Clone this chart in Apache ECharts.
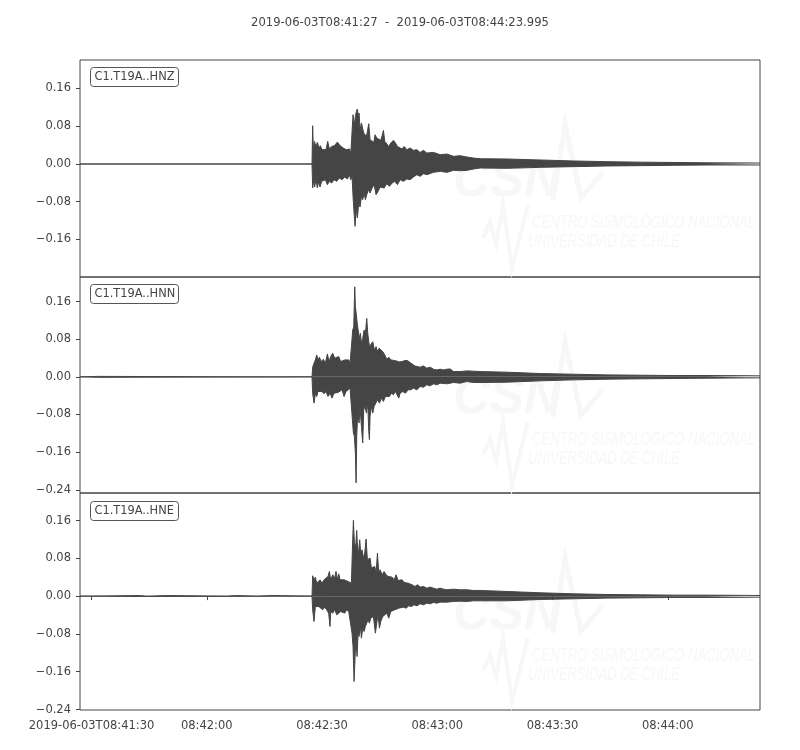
<!DOCTYPE html>
<html>
<head>
<meta charset="utf-8">
<script src="https://cdn.jsdelivr.net/npm/echarts@6/dist/echarts.min.js"></script>
<style>
html,body{margin:0;padding:0;background:#fff;}
#chart{width:800px;height:750px;}
</style>
</head>
<body>
<div id="chart"></div>
<script>
// ---------- data (seconds after 2019-06-03T08:41:27, amplitude) ----------
const channels = ['C1.T19A..HNZ', 'C1.T19A..HNN', 'C1.T19A..HNE'];
const xTickSeconds = [3, 33, 63, 93, 123, 153];
const yTickValues = [-0.24, -0.16, -0.08, 0, 0.08, 0.16];
const yMin = [-0.2395, -0.2468, -0.2410];
const yMax = [0.2204, 0.2122, 0.2183];

const hnzUpper = [[0,0],[60.39,0],[60.56,0.0811],[60.74,0.0303],[61.00,0.0479],[61.43,0.0373],[61.78,0.0458],[62.21,0.0338],[62.56,0.0388],[63.00,0.0303],[63.43,0.0338],[64.04,0.0303],[64.47,0.0479],[64.91,0.0317],[65.51,0.0373],[66.21,0.0388],[66.99,0.0465],[67.69,0.0388],[68.56,0.0338],[69.25,0.0303],[69.77,0.0268],[70.21,0.0317],[70.47,0.0197],[70.81,0.0232],[71.07,0.1044],[71.42,0.0832],[71.68,0.1009],[71.94,0.1115],[72.20,0.1164],[72.46,0.1009],[72.64,0.1079],[72.90,0.0726],[73.25,0.0868],[73.59,0.0903],[73.85,0.0656],[74.20,0.0691],[74.55,0.0585],[74.81,0.0691],[75.16,0.0854],[75.50,0.0515],[75.94,0.0529],[76.46,0.0458],[76.81,0.0621],[77.24,0.0550],[77.76,0.0585],[78.28,0.0501],[78.63,0.0599],[78.98,0.0712],[79.33,0.0479],[79.85,0.0444],[80.37,0.0373],[80.89,0.0444],[81.59,0.0501],[82.11,0.0444],[82.63,0.0373],[83.15,0.0409],[83.84,0.0317],[84.37,0.0373],[85.06,0.0303],[85.93,0.0338],[86.80,0.0289],[87.67,0.0303],[88.54,0.0246],[89.40,0.0289],[90.27,0.0232],[92.01,0.0246],[93.75,0.0197],[95.49,0.0211],[97.22,0.0162],[98.96,0.0176],[100.70,0.0148],[102.43,0.0126],[104.17,0.0112],[111.1,0.0106],[119.8,0.0085],[128.5,0.0064],[137.2,0.0049],[145.9,0.0039],[154.5,0.0032],[163.2,0.0025],[176.99,0.0021]];
const hnzLower = [[0,0],[60.39,0],[60.56,-0.0509],[60.82,-0.0333],[61.08,-0.0488],[61.43,-0.0318],[61.78,-0.0509],[62.13,-0.0368],[62.47,-0.0488],[62.91,-0.0368],[63.34,-0.0403],[63.86,-0.0333],[64.39,-0.0438],[64.91,-0.0368],[65.51,-0.0403],[66.12,-0.0333],[66.82,-0.0368],[67.51,-0.0297],[68.21,-0.0333],[68.90,-0.0276],[69.60,-0.0318],[70.12,-0.0227],[70.47,-0.0333],[70.81,-0.0262],[71.07,-0.0686],[71.34,-0.1039],[71.60,-0.1321],[71.86,-0.0968],[72.20,-0.1144],[72.55,-0.0827],[72.90,-0.0911],[73.25,-0.0686],[73.59,-0.0756],[73.94,-0.0615],[74.29,-0.0756],[74.64,-0.0650],[75.07,-0.0544],[75.50,-0.0615],[76.03,-0.0509],[76.55,-0.0438],[77.07,-0.0650],[77.59,-0.0580],[78.11,-0.0488],[78.63,-0.0460],[79.15,-0.0509],[79.85,-0.0417],[80.54,-0.0474],[81.24,-0.0403],[81.93,-0.0368],[82.63,-0.0438],[83.32,-0.0333],[84.19,-0.0368],[85.06,-0.0318],[85.93,-0.0333],[86.80,-0.0276],[87.67,-0.0227],[88.54,-0.0262],[89.40,-0.0205],[90.27,-0.0227],[92.01,-0.0177],[93.75,-0.0156],[95.49,-0.0177],[97.22,-0.0135],[98.96,-0.0142],[100.70,-0.0135],[102.43,-0.0107],[104.17,-0.0085],[111.1,-0.0092],[119.8,-0.0071],[128.5,-0.0056],[137.2,-0.0042],[145.9,-0.0035],[154.5,-0.0028],[163.2,-0.0021],[176.99,-0.0021]];

const hnnUpper = [[0,0],[0.4,0],[0.5,0.0010],[4.6,0.0010],[4.7,0],[45.8,0],[45.9,0.0010],[46.3,0.0010],[46.4,0],[60.39,0],[60.56,0.0205],[60.91,0.0289],[61.26,0.0360],[61.61,0.0466],[61.95,0.0360],[62.30,0.0417],[62.82,0.0325],[63.34,0.0374],[63.86,0.0289],[64.39,0.0487],[64.82,0.0325],[65.25,0.0431],[65.78,0.0501],[66.30,0.0395],[66.82,0.0417],[67.34,0.0431],[67.86,0.0325],[68.38,0.0304],[68.90,0.0360],[69.42,0.0325],[69.95,0.0360],[70.29,0.0289],[70.64,0.0254],[70.99,0.0995],[71.25,0.1066],[71.51,0.1913],[71.68,0.1490],[71.94,0.1313],[72.20,0.1101],[72.46,0.1066],[72.73,0.0819],[72.99,0.0925],[73.25,0.0713],[73.59,0.0819],[73.94,0.0995],[74.29,0.0925],[74.64,0.1243],[74.90,0.0925],[75.33,0.0642],[75.68,0.0607],[76.20,0.0748],[76.63,0.0572],[77.07,0.0642],[77.42,0.0537],[77.85,0.0607],[78.37,0.0572],[78.81,0.0537],[79.33,0.0466],[79.85,0.0374],[80.37,0.0417],[80.89,0.0360],[81.41,0.0388],[81.93,0.0346],[82.45,0.0374],[83.15,0.0318],[83.84,0.0325],[84.54,0.0346],[85.23,0.0346],[85.93,0.0304],[86.45,0.0289],[87.15,0.0233],[87.84,0.0219],[88.54,0.0205],[89.40,0.0233],[90.27,0.0184],[91.14,0.0205],[92.01,0.0162],[92.88,0.0148],[93.75,0.0162],[94.62,0.0148],[95.49,0.0162],[96.35,0.0169],[97.22,0.0113],[98.96,0.0113],[100.70,0.0127],[102.43,0.0120],[104.17,0.0113],[111.1,0.0099],[119.8,0.0071],[128.5,0.0056],[137.2,0.0042],[145.9,0.0035],[154.5,0.0028],[163.2,0.0028],[176.99,0.0021]];
const hnnLower = [[0,0],[0.4,0],[0.5,-0.0010],[4.6,-0.0010],[4.7,0],[60.39,0],[60.56,-0.0346],[60.91,-0.0558],[61.26,-0.0360],[61.61,-0.0417],[61.95,-0.0311],[62.47,-0.0346],[63.00,-0.0311],[63.52,-0.0360],[64.04,-0.0311],[64.56,-0.0417],[65.08,-0.0346],[65.60,-0.0452],[66.12,-0.0346],[66.64,-0.0381],[67.17,-0.0332],[67.69,-0.0346],[68.21,-0.0275],[68.73,-0.0417],[69.25,-0.0311],[69.77,-0.0346],[70.29,-0.0240],[70.64,-0.0275],[70.90,-0.0911],[71.16,-0.1193],[71.42,-0.1264],[71.68,-0.1617],[71.86,-0.2252],[72.03,-0.1264],[72.29,-0.0770],[72.64,-0.0981],[72.90,-0.0664],[73.25,-0.1052],[73.59,-0.1405],[73.85,-0.0699],[74.20,-0.0628],[74.55,-0.0770],[74.90,-0.0558],[75.16,-0.1158],[75.33,-0.1334],[75.50,-0.0840],[75.85,-0.0628],[76.20,-0.0770],[76.55,-0.0628],[76.89,-0.0593],[77.42,-0.0487],[77.94,-0.0558],[78.46,-0.0452],[78.98,-0.0522],[79.50,-0.0417],[80.02,-0.0381],[80.54,-0.0417],[81.06,-0.0346],[81.59,-0.0381],[82.11,-0.0311],[82.63,-0.0346],[82.98,-0.0452],[83.32,-0.0346],[84.02,-0.0311],[84.71,-0.0346],[85.41,-0.0275],[86.10,-0.0275],[86.80,-0.0240],[87.67,-0.0275],[88.54,-0.0205],[89.40,-0.0219],[90.27,-0.0169],[91.14,-0.0191],[92.01,-0.0148],[92.88,-0.0169],[93.75,-0.0134],[95.49,-0.0148],[97.22,-0.0120],[98.96,-0.0134],[100.70,-0.0099],[102.43,-0.0120],[104.17,-0.0120],[111.1,-0.0113],[119.8,-0.0085],[128.5,-0.0064],[137.2,-0.0049],[145.9,-0.0042],[154.5,-0.0035],[163.2,-0.0028],[176.99,-0.0021]];

const hneUpper = [[0,0],[2.5,0],[2.6,0.0012],[15.5,0.0012],[15.6,0],[17.4,0],[17.5,0.0012],[22.8,0.0012],[22.9,0],[38.2,0],[38.3,0.0012],[40.7,0.0012],[40.8,0],[46.0,0],[46.1,0.0012],[49.9,0.0012],[50.0,0],[60.39,0],[60.56,0.0431],[60.91,0.0346],[61.26,0.0402],[61.61,0.0275],[62.04,0.0311],[62.47,0.0346],[63.00,0.0275],[63.52,0.0346],[64.04,0.0311],[64.56,0.0417],[64.91,0.0522],[65.25,0.0346],[65.78,0.0452],[66.30,0.0381],[66.64,0.0522],[66.99,0.0346],[67.34,0.0473],[67.69,0.0346],[68.21,0.0311],[68.73,0.0346],[69.25,0.0311],[69.77,0.0311],[70.29,0.0289],[70.64,0.0275],[70.90,0.0981],[71.16,0.1603],[71.42,0.1123],[71.77,0.1052],[72.03,0.1391],[72.29,0.0911],[72.55,0.0981],[72.81,0.1193],[73.07,0.0911],[73.42,0.0981],[73.77,0.0805],[74.11,0.0911],[74.46,0.1207],[74.81,0.0770],[75.16,0.0734],[75.50,0.0805],[75.85,0.0593],[76.37,0.0558],[76.72,0.0628],[77.07,0.0487],[77.42,0.0911],[77.76,0.0487],[78.11,0.0558],[78.63,0.0452],[79.15,0.0522],[79.67,0.0452],[80.20,0.0417],[80.72,0.0452],[81.24,0.0402],[81.76,0.0346],[82.28,0.0452],[82.80,0.0332],[83.32,0.0311],[83.84,0.0346],[84.37,0.0289],[84.89,0.0311],[85.41,0.0275],[85.93,0.0289],[86.45,0.0240],[87.15,0.0205],[87.84,0.0240],[88.54,0.0191],[89.40,0.0205],[90.27,0.0169],[91.14,0.0191],[92.01,0.0169],[92.88,0.0148],[93.75,0.0169],[94.62,0.0148],[95.49,0.0134],[97.22,0.0148],[98.96,0.0134],[100.70,0.0134],[102.43,0.0120],[104.17,0.0120],[111.1,0.0099],[119.8,0.0071],[128.5,0.0049],[137.2,0.0035],[145.9,0.0028],[154.5,0.0021],[163.2,0.0021],[176.99,0.0014]];
const hneLower = [[0,0],[2.5,0],[2.6,-0.0008],[15.5,-0.0008],[15.6,0],[60.39,0],[60.56,-0.0289],[60.91,-0.0537],[61.26,-0.0219],[61.61,-0.0254],[62.13,-0.0219],[62.65,-0.0205],[63.17,-0.0289],[63.69,-0.0233],[64.21,-0.0289],[64.73,-0.0360],[65.08,-0.0642],[65.25,-0.0325],[65.78,-0.0360],[66.30,-0.0289],[66.82,-0.0395],[67.34,-0.0360],[67.86,-0.0325],[68.38,-0.0304],[68.90,-0.0360],[69.42,-0.0289],[69.95,-0.0325],[70.47,-0.0289],[70.81,-0.0784],[71.07,-0.1066],[71.34,-0.1807],[71.60,-0.1278],[71.86,-0.0925],[72.12,-0.1278],[72.38,-0.0784],[72.64,-0.0854],[72.99,-0.0642],[73.25,-0.0890],[73.59,-0.0678],[73.94,-0.0748],[74.29,-0.0642],[74.64,-0.0607],[74.98,-0.0501],[75.33,-0.0572],[75.68,-0.0466],[76.03,-0.0501],[76.37,-0.0431],[76.89,-0.0784],[77.24,-0.0572],[77.59,-0.0395],[77.94,-0.0678],[78.28,-0.0537],[78.81,-0.0431],[79.33,-0.0417],[79.85,-0.0360],[80.37,-0.0466],[80.89,-0.0325],[81.41,-0.0360],[81.93,-0.0289],[82.45,-0.0325],[82.98,-0.0254],[83.50,-0.0289],[84.19,-0.0233],[84.89,-0.0254],[85.58,-0.0205],[86.28,-0.0219],[86.97,-0.0184],[87.67,-0.0205],[88.54,-0.0162],[89.40,-0.0184],[90.27,-0.0148],[91.14,-0.0162],[92.01,-0.0134],[92.88,-0.0148],[93.75,-0.0127],[95.49,-0.0127],[97.22,-0.0113],[98.96,-0.0106],[100.70,-0.0113],[102.43,-0.0099],[104.17,-0.0099],[111.1,-0.0099],[119.8,-0.0071],[128.5,-0.0056],[137.2,-0.0042],[145.9,-0.0035],[154.5,-0.0028],[163.2,-0.0028],[176.99,-0.0021]];

// ---------- chart ----------
const START_SEC = 8 * 3600 + 41 * 60 + 27; // 08:41:27
const END_OFFSET = 176.995;
const traceColor = '#454545';
const inkColor = '#444444';
const FONT = '"DejaVu Sans", sans-serif';
const uppers = [hnzUpper, hnnUpper, hneUpper];
const lowers = [hnzLower, hnnLower, hneLower];

const gridTops = [60, 277, 493];
const gridHeights = [217, 216, 217];

function pad(n) { return (n < 10 ? '0' : '') + n; }
function timeLabel(s) {
  const tot = START_SEC + Math.round(s);
  const h = Math.floor(tot / 3600), m = Math.floor((tot % 3600) / 60), sec = tot % 60;
  const hms = pad(h) + ':' + pad(m) + ':' + pad(sec);
  return s === xTickSeconds[0] ? '2019-06-03T' + hms : hms;
}
function yLabel(v) {
  const a = Math.abs(v).toFixed(2);
  return v < -1e-9 ? '\u2212' + a : a;
}

const grids = [], xAxes = [], yAxes = [], series = [];
for (let i = 0; i < 3; i++) {
  const isBottom = i === 2;
  grids.push({ left: 80, width: 680, top: gridTops[i], height: gridHeights[i],
    show: true, borderColor: inkColor, borderWidth: 1, backgroundColor: 'transparent' });
  xAxes.push({
    type: 'value', gridIndex: i, min: 0, max: END_OFFSET,
    axisLine: { show: false },
    splitLine: { show: false },
    axisTick: { show: isBottom, customValues: xTickSeconds, length: 4, lineStyle: { color: inkColor } },
    axisLabel: { show: isBottom, customValues: xTickSeconds, formatter: timeLabel, margin: 10,
      color: inkColor, fontSize: 11.5, fontFamily: FONT }
  });
  const yt = yTickValues.filter(v => v >= yMin[i] - 1e-9 && v <= yMax[i] + 1e-9);
  yAxes.push({
    type: 'value', gridIndex: i, min: yMin[i], max: yMax[i],
    axisLine: { show: false },
    splitLine: { show: false },
    axisTick: { show: true, customValues: yt, length: 4, lineStyle: { color: inkColor } },
    axisLabel: { show: true, customValues: yt, formatter: yLabel, margin: 9,
      color: inkColor, fontSize: 11.5, fontFamily: FONT }
  });
  [uppers[i], lowers[i]].forEach(d => {
    series.push({
      type: 'line', xAxisIndex: i, yAxisIndex: i, data: d,
      showSymbol: false, symbol: 'none', silent: true, animation: false,
      lineStyle: { color: traceColor, width: 1 },
      areaStyle: { color: traceColor, opacity: 1 },
      z: 3
    });
  });
}

// watermark + channel labels
const meas = document.createElement('canvas').getContext('2d');
function fitScale(text, font, target) { meas.font = font; return target / meas.measureText(text).width; }
const wmColor = '#f7f7f7';
const graphics = [];
const wmFontBig = 'italic bold 52px "Liberation Sans", sans-serif';
const wmFontSmall = 'italic 19px "Liberation Sans", sans-serif';
const line1 = 'CENTRO SISMOLÓGICO NACIONAL', line2 = 'UNIVERSIDAD DE CHILE';
for (let i = 0; i < 3; i++) {
  const dy = gridTops[i] - 60;
  graphics.push({ type: 'text', x: 453, y: 208 + dy, z: 0, scaleX: fitScale('CSN', wmFontBig, 108),
    style: { text: 'CSN', font: wmFontBig, fill: wmColor, textAlign: 'left', textVerticalAlign: 'bottom' } });
  graphics.push({ type: 'polyline', z: 0, shape: { points: [[553, 200 + dy], [565, 125 + dy], [581, 198 + dy], [603, 172 + dy]] },
    style: { stroke: wmColor, lineWidth: 5, fill: null } });
  graphics.push({ type: 'polyline', z: 0, shape: { points: [[483, 238 + dy], [490, 222 + dy], [496, 244 + dy], [503, 205 + dy], [512, 268 + dy], [528, 205 + dy]] },
    style: { stroke: wmColor, lineWidth: 4, fill: null } });
  graphics.push({ type: 'text', x: 532, y: 223 + dy, z: 0, scaleX: fitScale(line1, wmFontSmall, 223),
    style: { text: line1, font: wmFontSmall, fill: wmColor, textAlign: 'left', textVerticalAlign: 'middle' } });
  graphics.push({ type: 'text', x: 528, y: 242 + dy, z: 0, scaleX: fitScale(line2, wmFontSmall, 152),
    style: { text: line2, font: wmFontSmall, fill: wmColor, textAlign: 'left', textVerticalAlign: 'middle' } });
  // channel label box
  const by = [67.5, 284.5, 501.5][i];
  graphics.push({ type: 'rect', z: 10, shape: { x: 90.5, y: by, width: 88, height: 19, r: 3 },
    style: { fill: '#ffffff', stroke: '#555555', lineWidth: 1 } });
  graphics.push({ type: 'text', z: 11, x: 94.5, y: by + 10,
    style: { text: channels[i], font: '11.4px "DejaVu Sans", sans-serif', fill: inkColor, textAlign: 'left', textVerticalAlign: 'middle' } });
}

const chart = echarts.init(document.getElementById('chart'), null, { renderer: 'canvas' });
chart.setOption({
  backgroundColor: '#ffffff',
  animation: false,
  title: { text: '2019-06-03T08:41:27  -  2019-06-03T08:44:23.995', left: 'center', top: 12,
    textStyle: { color: inkColor, fontSize: 11.6, fontWeight: 'normal', fontFamily: FONT } },
  grid: grids, xAxis: xAxes, yAxis: yAxes, series: series,
  graphic: { elements: graphics }
});
</script>
</body>
</html>
